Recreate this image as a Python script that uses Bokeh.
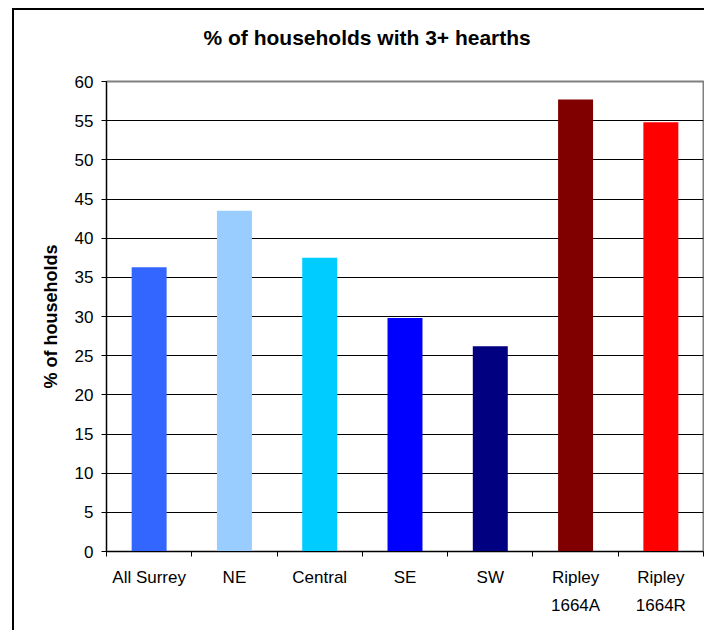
from bokeh.plotting import figure
from bokeh.models import FixedTicker, Range1d, ColumnDataSource, Title
from bokeh.embed import file_html
from bokeh.resources import INLINE

title_text = "% of households with 3+ hearths"
categories = ["All Surrey", "NE", "Central", "SE", "SW", "Ripley\n1664A", "Ripley\n1664R"]
values = [36.3, 43.5, 37.5, 29.8, 26.2, 57.7, 54.8]
colors = ["#3366FF", "#99CCFF", "#00CCFF", "#0000FF", "#000080", "#800000", "#FF0000"]
y_ticks = list(range(0, 61, 5))

n = len(categories)
xs = [i + 0.5 for i in range(n)]
src = ColumnDataSource(dict(x=xs, top=values, color=colors))

FONT = "Liberation Sans"

p = figure(width=692, height=622, output_backend="svg", toolbar_location=None,
           x_range=Range1d(0, n), y_range=Range1d(0, 60),
           min_border_left=92, min_border_top=71, min_border_right=3, min_border_bottom=81,
           title=title_text,
           margin=(8, 0, 0, 12),
           styles={"border-left": "2px solid black", "border-top": "2px solid black"})

p.vbar(x="x", top="top", width=0.41, bottom=0, fill_color="color", line_color=None, source=src)

# spacer between the title and the plot frame
spacer = Title(text=" ", text_font_size="1px", standoff=30)
p.add_layout(spacer, "above")

p.title.text_font = FONT
p.title.text_font_size = "21px"
p.title.text_font_style = "bold"
p.title.align = "left"
p.title.offset = 97
p.title.standoff = 0
p.title.text_color = "black"

p.outline_line_color = "#808080"
p.outline_line_width = 2
p.background_fill_color = "white"
p.border_fill_color = "white"

# y axis
ya = p.yaxis[0]
ya.ticker = FixedTicker(ticks=y_ticks)
ya.axis_label = "% of households"
ya.axis_label_text_font = FONT
ya.axis_label_text_font_size = "18px"
ya.axis_label_text_font_style = "bold"
ya.axis_label_text_color = "black"
ya.axis_label_standoff = 11
ya.major_label_text_font = FONT
ya.major_label_text_font_size = "17px"
ya.major_label_text_color = "black"
ya.major_tick_out = 5
ya.major_tick_in = 0
ya.minor_tick_line_color = None
ya.axis_line_color = "black"
ya.major_tick_line_color = "black"
ya.major_label_standoff = 8

# x axis
xa = p.xaxis[0]
xa.ticker = FixedTicker(ticks=xs, minor_ticks=list(range(0, n + 1)))
xa.major_label_overrides = {x: c for x, c in zip(xs, categories)}
xa.major_label_text_font = FONT
xa.major_label_text_font_size = "17px"
xa.major_label_text_color = "black"
xa.major_label_text_line_height = 1.5
xa.major_tick_line_color = None
xa.minor_tick_out = 5
xa.minor_tick_in = 0
xa.minor_tick_line_color = "black"
xa.axis_line_color = "black"
xa.major_label_standoff = 10

p.xgrid.grid_line_color = None
p.ygrid.ticker = FixedTicker(ticks=y_ticks)
p.ygrid.grid_line_color = "black"
p.ygrid.grid_line_alpha = 1.0

open("out.html", "w").write(file_html(p, INLINE))
